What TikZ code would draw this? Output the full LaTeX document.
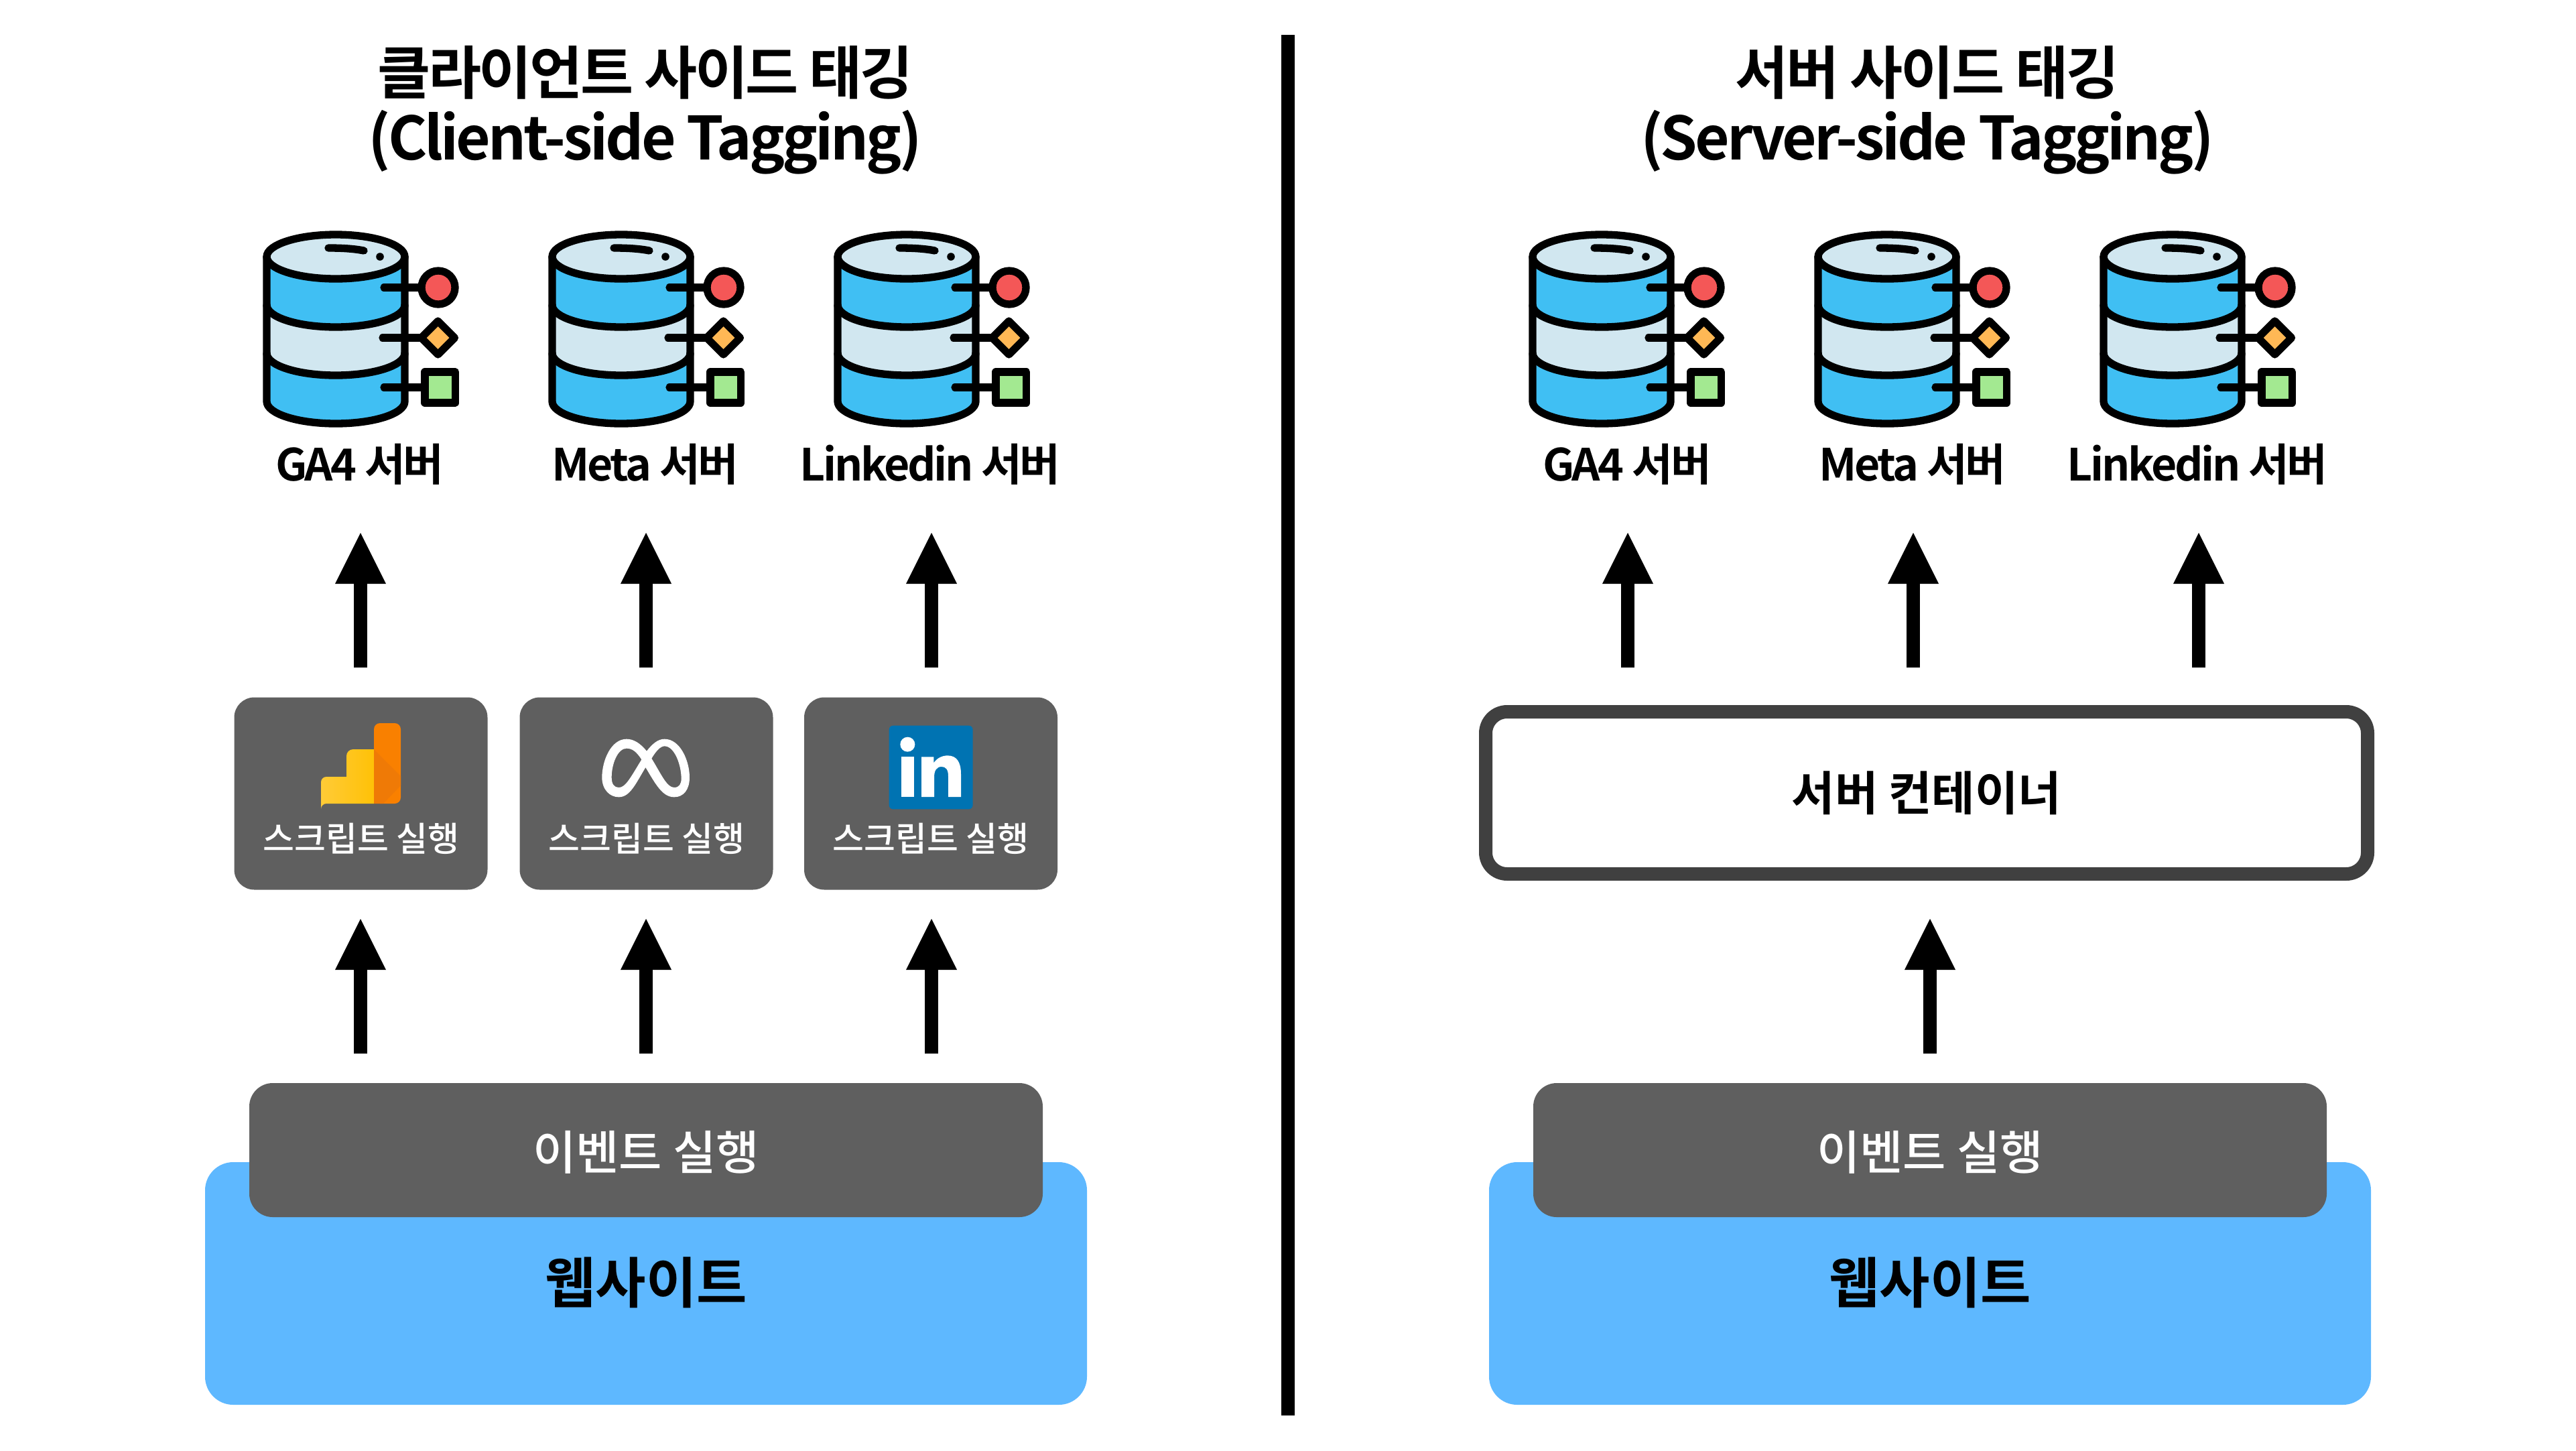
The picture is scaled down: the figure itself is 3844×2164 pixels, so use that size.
\documentclass[tikz,border=0pt]{standalone}
\usepackage{fontspec}
\usetikzlibrary{arrows.meta}
\setmainfont{Noto Sans CJK KR}
\newfontfamily\krmed{Noto Sans CJK KR Medium}
\newfontfamily\krtitle[LetterSpace=-4]{Noto Sans CJK KR Bold}
\newfontfamily\krtitleb[LetterSpace=-4.5]{Noto Sans CJK KR Bold}
\newfontfamily\krlab[LetterSpace=-5]{Noto Sans CJK KR Bold}
\newfontfamily\krbold{Noto Sans CJK KR Bold}
\definecolor{boxgray}{HTML}{5F5F5F}
\definecolor{sitecol}{HTML}{5EB8FF}
\definecolor{contcol}{HTML}{404040}
\definecolor{dbblue}{HTML}{40BFF3}
\definecolor{dblight}{HTML}{D1E7F0}
\definecolor{dbred}{HTML}{F45757}
\definecolor{dbamber}{HTML}{FFB855}
\definecolor{dbgreen}{HTML}{A3E991}
\definecolor{gaorange}{HTML}{F98000}
\definecolor{gaorangeb}{HTML}{EF7A06}
\definecolor{gayellow}{HTML}{FFC107}
\definecolor{gayellowb}{HTML}{FFCB37}
\definecolor{liblue}{HTML}{0073B2}
\newcommand{\fsz}[1]{\fontsize{#1}{#1}\selectfont}
\newcommand{\botarc}[1]{(38,#1) .. controls (38,#1+18.2) and (84,#1+33) .. (141,#1+33) .. controls (198,#1+33) and (244,#1+18.2) .. (244,#1)}
\tikzset{
  x=1pt,y=-1pt,
  flowarrow/.style={line width=20pt,-{Triangle[width=76pt,length=76pt,line width=0pt]}},
  scriptbox/.style={fill=boxgray,rounded corners=30pt,minimum width=378pt,minimum height=287pt,inner sep=0pt},
  eventbox/.style={fill=boxgray,rounded corners=35pt,minimum width=1184pt,minimum height=200pt,inner sep=0pt,text=white,font=\krmed\fsz{70},text height=63pt,text depth=5pt},
  sitebox/.style={fill=sitecol,rounded corners=42pt,minimum width=1316pt,minimum height=362pt,inner sep=0pt,font=\krbold\fsz{82},text height=66pt,text depth=8pt},
  contbox/.style={draw=contcol,line width=20pt,fill=white,rounded corners=32pt,minimum width=1316pt,minimum height=242pt,inner sep=0pt,font=\krbold\fsz{70},text height=56pt,text depth=4pt},
  titletext/.style={anchor=base,inner sep=0pt,font=\krtitle\fsz{86}},
  titletextb/.style={anchor=base,inner sep=0pt,font=\krtitleb\fsz{89}},
  srvlabel/.style={anchor=base,inner sep=0pt,font=\krlab\fsz{66}},
  scrlabel/.style={anchor=base,inner sep=0pt,text=white,font=\krmed\fsz{51}},
  dbicon/.pic={
    \fill[dbblue] (38,63) -- \botarc{279} -- (244,63) -- cycle;
    \fill[dblight] (38,63) -- \botarc{207} -- (244,63) -- cycle;
    \fill[dbblue] (38,63) -- \botarc{135} -- (244,63) -- cycle;
    \begin{scope}[line width=11.3pt,line cap=round,line join=round]
      \path[fill=dblight,draw=black] (38,63) .. controls (38,45) and (84,30) .. (141,30) .. controls (198,30) and (244,45) .. (244,63) .. controls (244,81) and (198,96) .. (141,96) .. controls (84,96) and (38,81) .. (38,63) -- cycle;
      \draw (38,63) -- \botarc{279} -- (244,63);
      \draw \botarc{135};
      \draw \botarc{207};
      \draw (130,50) .. controls (150,50) and (168,51) .. (183,54);
      \fill (207,63) circle[radius=5.8pt];
      \draw (213,109) -- (272,109);
      \draw (211,184) -- (272,184);
      \draw (213,258) -- (272,258);
      \draw[fill=dbred] (294,109) circle[radius=25pt];
      \draw[fill=dbamber] (293.5,159) -- (318.5,184) -- (293.5,209) -- (268.5,184) -- cycle;
      \draw[fill=dbgreen] (274,235) rectangle (319.5,281);
    \end{scope}
  },
}
\begin{document}
\begin{tikzpicture}
\fill[white] (0,0) rectangle (3844,2164);
\useasboundingbox (0,0) rectangle (3844,2164);

% divider
\coordinate (divtop) at (1922,52);
\coordinate (divbot) at (1922,2112);
\draw[line width=20pt] (divtop) -- (divbot);

% titles
\node[titletext] (titleLa) at (963,140) {클라이언트 사이드 태깅};
\node[titletextb] (titleLb) at (963,238) {(Client-side Tagging)};
\node[titletext] (titleRa) at (2876,140) {서버 사이드 태깅};
\node[titletextb] (titleRb) at (2876,238) {(Server-side Tagging)};

% database icons
\foreach \ox in {360,786,1212,2249,2675,3101}
  \pic at (\ox,320) {dbicon};

% server labels
\node[srvlabel] (srvLa) at (537,717) {GA4 서버};
\node[srvlabel] (srvLb) at (963,717) {Meta 서버};
\node[srvlabel] (srvLc) at (1388,717) {Linkedin 서버};
\node[srvlabel] (srvRa) at (2428,717) {GA4 서버};
\node[srvlabel] (srvRb) at (2854,717) {Meta 서버};
\node[srvlabel] (srvRc) at (3279,717) {Linkedin 서버};

% script boxes
\node[scriptbox] (scrA) at (538.5,1184) {};
\node[scriptbox] (scrB) at (964.5,1184) {};
\node[scriptbox] (scrC) at (1389,1184) {};
\node[scrlabel] (scrAt) at (539,1270) {스크립트 실행};
\node[scrlabel] (scrBt) at (965,1270) {스크립트 실행};
\node[scrlabel] (scrCt) at (1389,1270) {스크립트 실행};

% GA logo
\begin{scope}
  \path[left color=gayellowb,right color=gayellow]
    (558,1199) -- (487,1199) arc[start angle=90,end angle=180,radius=8pt] -- (479,1167)
    arc[start angle=180,end angle=90,radius=8pt] -- (517,1159) -- (517,1128)
    arc[start angle=180,end angle=90,radius=10pt] -- (558,1118) -- cycle;
  \fill[gaorange,rounded corners=9pt] (558,1199) -- (558,1079) -- (598,1079) -- (598,1199) -- cycle;
  \fill[gaorange] (558,1118) rectangle (570,1199);
  \fill[gaorangeb] (558,1118) -- (598,1158) -- (598,1172) -- (572,1199) -- (558,1199) -- cycle;
\end{scope}

% Meta logo
\begin{scope}[shift={(880,1080)},x=0.3333pt,y=-0.3333pt]
  \fill[white,even odd rule]
    (255,122) .. controls (225,85) and (195,68) .. (165,68)
    .. controls (95,68) and (55,165) .. (55,240)
    .. controls (55,295) and (90,328) .. (130,328)
    .. controls (180,328) and (205,270) .. (250,195)
    .. controls (295,270) and (325,328) .. (378,328)
    .. controls (420,328) and (447,295) .. (447,240)
    .. controls (447,165) and (405,68) .. (335,68)
    .. controls (305,68) and (280,90) .. (255,122) -- cycle
    (232,160) .. controls (210,125) and (190,110) .. (165,110)
    .. controls (125,110) and (98,180) .. (98,240)
    .. controls (98,270) and (110,285) .. (130,285)
    .. controls (160,285) and (180,245) .. (232,160) -- cycle
    (277,155) .. controls (295,125) and (315,100) .. (335,100)
    .. controls (380,100) and (410,185) .. (410,245)
    .. controls (410,270) and (400,285) .. (378,285)
    .. controls (345,285) and (320,225) .. (277,155) -- cycle;
\end{scope}

% LinkedIn logo
\begin{scope}[shift={(1310,1070)},x=0.3333pt,y=-0.3333pt]
  \fill[liblue,rounded corners=6pt] (50,38) rectangle (425,412);
  \fill[white] (133,122) circle[radius=11pt];
  \fill[white] (105,178) rectangle (162,357);
  \fill[white] (195,178) -- (250,178) -- (250,205)
    .. controls (265,182) and (290,172) .. (312,172)
    .. controls (352,172) and (372,200) .. (372,255)
    -- (372,357) -- (315,357) -- (315,265)
    .. controls (315,235) and (305,222) .. (285,222)
    .. controls (262,222) and (252,240) .. (252,270)
    -- (252,357) -- (195,357) -- cycle;
\end{scope}

% container
\node[contbox] (cont) at (2875,1183) {서버 컨테이너};

% website + event boxes
\node[sitebox] (siteL) at (964,1915) {웹사이트};
\node[sitebox] (siteR) at (2880,1915) {웹사이트};
\node[eventbox] (evL) at (964,1716) {이벤트 실행};
\node[eventbox] (evR) at (2880,1716) {이벤트 실행};

% arrows
\foreach \nm/\ax in {a/538,b/964,c/1390,d/2429,e/2855,f/3281}{
  \coordinate (up\nm s) at (\ax,996);
  \coordinate (up\nm t) at (\ax,795);
  \draw[flowarrow] (up\nm s) -- (up\nm t);
}
\foreach \nm/\ax in {a/538,b/964,c/1390,d/2880}{
  \coordinate (lo\nm s) at (\ax,1572);
  \coordinate (lo\nm t) at (\ax,1371);
  \draw[flowarrow] (lo\nm s) -- (lo\nm t);
}
\end{tikzpicture}
\end{document}
